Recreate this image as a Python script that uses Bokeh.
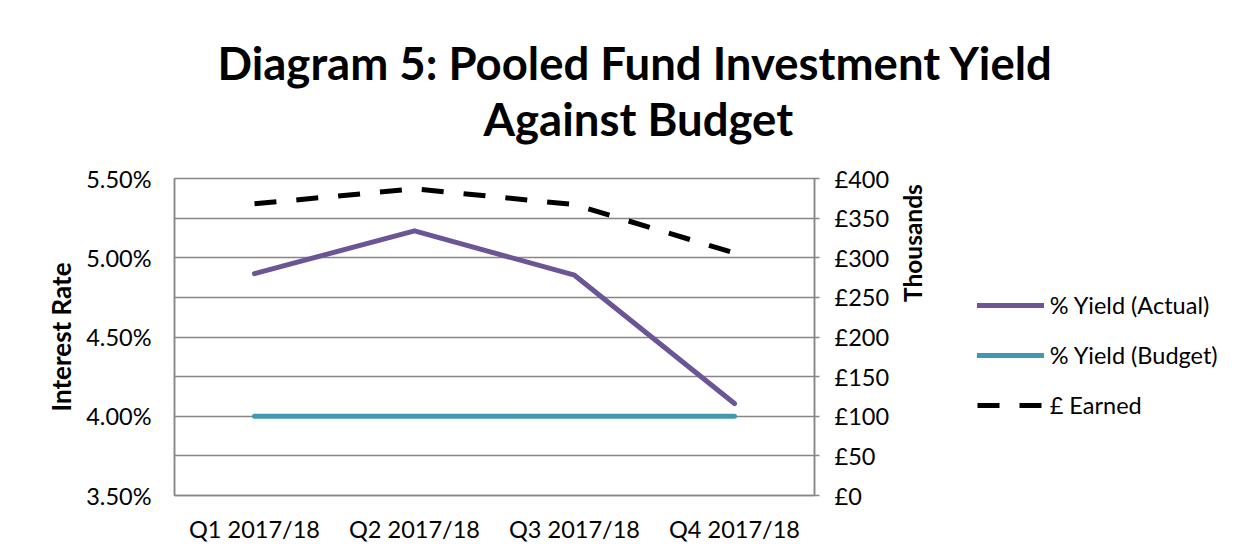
from bokeh.plotting import figure
from bokeh.models import (Range1d, LinearAxis, FixedTicker, Legend, LegendItem,
                          Title, PrintfTickFormatter)
from bokeh.embed import file_html
from bokeh.resources import INLINE
import math

# ---- data ----
quarters = ["Q1 2017/18", "Q2 2017/18", "Q3 2017/18", "Q4 2017/18"]
yield_actual = [4.90, 5.17, 4.89, 4.08]      # %
yield_budget = [4.00, 4.00, 4.00, 4.00]      # %
earned_k = [368, 387, 367, 306]              # £ thousands
pct_ticks = [3.5, 4.0, 4.5, 5.0, 5.5]
grid_ticks = [3.5, 3.75, 4.0, 4.25, 4.5, 4.75, 5.0, 5.25, 5.5]
gbp_ticks = [0, 50, 100, 150, 200, 250, 300, 350, 400]

xpos = [i + 0.5 for i in range(len(quarters))]

FONT = "Lato"
GRAY = "#868686"
PURPLE = "#6B5596"
TEAL = "#4198AF"
TICK_FS = "23.5px"

p = figure(output_backend="svg", toolbar_location=None,
           frame_width=640, frame_height=317,
           min_border_left=174, min_border_right=417,
           min_border_top=178, min_border_bottom=50,
           x_range=Range1d(0, len(quarters)), y_range=Range1d(3.5, 5.5))
p.background_fill_color = "white"
p.border_fill_color = "white"
p.outline_line_color = GRAY
p.outline_line_width = 1.5

p.extra_y_ranges = {"gbp": Range1d(0, 400)}

# grid
p.xgrid.visible = False
p.ygrid.ticker = FixedTicker(ticks=grid_ticks)
p.ygrid.grid_line_color = GRAY
p.ygrid.grid_line_width = 1.5

# left axis
ya = p.yaxis[0]
ya.ticker = FixedTicker(ticks=pct_ticks)
ya.formatter = PrintfTickFormatter(format="%.2f%%")
ya.major_tick_line_color = None
ya.minor_tick_line_color = None
ya.axis_line_color = GRAY
ya.axis_line_width = 1.5
ya.major_label_standoff = 17
ya.major_label_text_font = FONT
ya.major_label_text_font_size = TICK_FS
ya.major_label_text_color = "black"
ya.axis_label = "Interest Rate"
ya.axis_label_text_font = FONT
ya.axis_label_text_font_size = "26px"
ya.axis_label_text_font_style = "bold"
ya.axis_label_text_color = "black"
ya.axis_label_standoff = 6

# bottom axis
xa = p.xaxis[0]
xa.ticker = FixedTicker(ticks=xpos)
xa.major_label_overrides = {x: q for x, q in zip(xpos, quarters)}
xa.major_tick_line_color = None
xa.minor_tick_line_color = None
xa.axis_line_color = GRAY
xa.axis_line_width = 1.5
xa.major_label_standoff = 13
xa.major_label_text_font = FONT
xa.major_label_text_font_size = TICK_FS
xa.major_label_text_color = "black"

# right axis (ticks and labels)
ra = LinearAxis(y_range_name="gbp", ticker=FixedTicker(ticks=gbp_ticks),
                formatter=PrintfTickFormatter(format="£%d"))
ra.major_tick_in = 0
ra.major_tick_out = 5
ra.major_tick_line_color = GRAY
ra.major_tick_line_width = 1.5
ra.minor_tick_line_color = None
ra.axis_line_color = GRAY
ra.axis_line_width = 1.5
ra.major_label_standoff = 15
ra.major_label_text_font = FONT
ra.major_label_text_font_size = TICK_FS
ra.major_label_text_color = "black"
p.add_layout(ra, "right")

# display-unit label of the secondary axis (reads upward, sits in the upper half)
ua = LinearAxis(y_range_name="gbp", ticker=FixedTicker(ticks=[]))
ua.axis_line_color = None
ua.major_tick_line_color = None
ua.minor_tick_line_color = None
ua.axis_label = "\u00a0" * 6 + "Thousands"
ua.axis_label_text_font = FONT
ua.axis_label_text_font_size = "24.5px"
ua.axis_label_text_font_style = "bold"
ua.axis_label_text_color = "black"
ua.axis_label_standoff = 20
if hasattr(ua, "axis_label_orientation"):
    ua.axis_label_orientation = math.pi / 2
p.add_layout(ua, "right")

# series
r_act = p.line(xpos, yield_actual, line_color=PURPLE, line_width=5,
               line_cap="round", line_join="round")
r_bud = p.line(xpos, yield_budget, line_color=TEAL, line_width=5,
               line_cap="round", line_join="round")
r_ern = p.line(xpos, earned_k, y_range_name="gbp", line_color="black",
               line_width=5, line_dash="22 20")

legend = Legend(items=[LegendItem(label="% Yield (Actual)", renderers=[r_act]),
                       LegendItem(label="% Yield (Budget)", renderers=[r_bud]),
                       LegendItem(label="£ Earned", renderers=[r_ern])],
                location=(-256, 76), orientation="vertical",
                glyph_width=67, glyph_height=20, label_standoff=6,
                spacing=22, padding=0, margin=0,
                border_line_color=None, background_fill_alpha=0,
                label_text_font=FONT, label_text_font_size=TICK_FS,
                label_text_color="black")
p.add_layout(legend, "right")

# title: two lines, nearest to frame added first
t2 = Title(text="Against Budget", align="left", offset=309, standoff=65,
           text_font=FONT, text_font_size="45.5px", text_font_style="bold",
           text_color="black")
t1 = Title(text="Diagram 5:  Pooled Fund Investment Yield", align="left", offset=43,
           standoff=-66, text_font=FONT, text_font_size="45.5px", text_font_style="bold",
           text_color="black")
p.add_layout(t2, "above")
p.add_layout(t1, "above")

open("out.html", "w").write(file_html(p, INLINE))
